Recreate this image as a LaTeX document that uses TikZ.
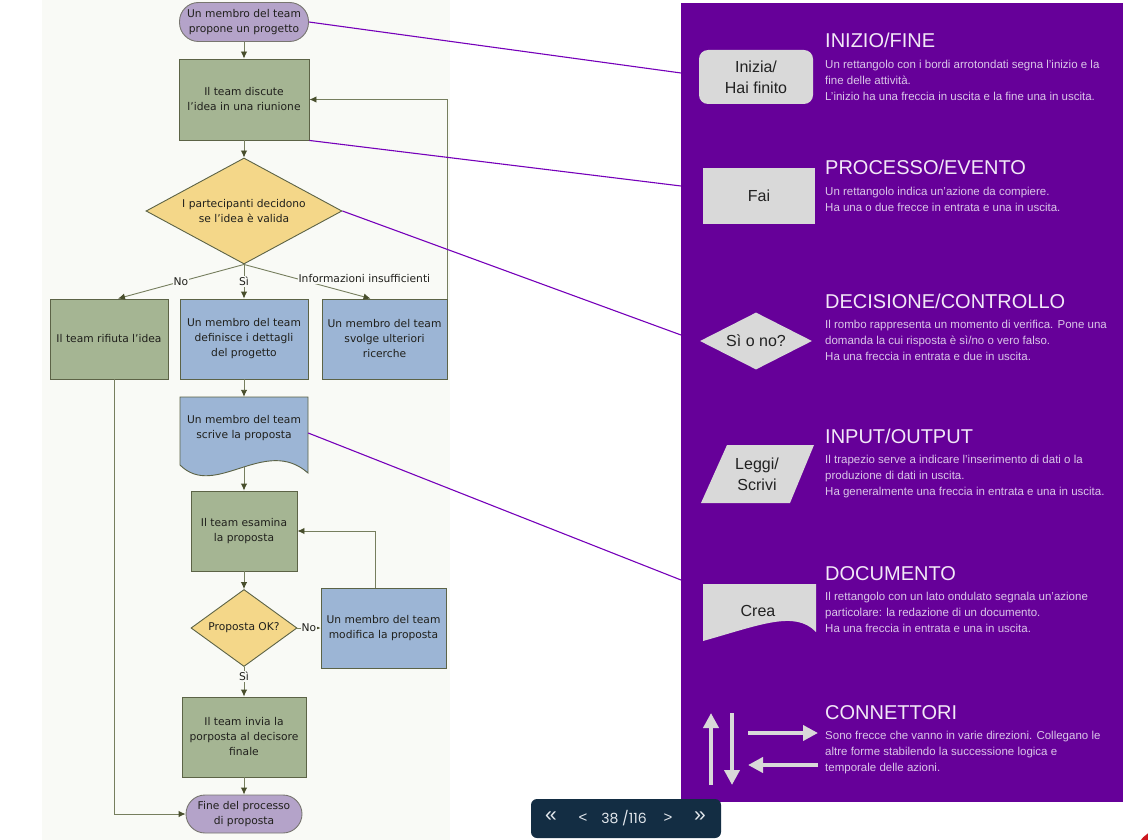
\documentclass[tikz,border=0pt]{standalone}
\usepackage{fontspec}
\setmainfont{Liberation Sans}
\newfontfamily\chartFont{DejaVu Sans}
\newfontfamily\pageFont{Poppins}
\usepackage{tikz}
\usetikzlibrary{shapes.geometric,arrows.meta}
\definecolor{chartBack}{RGB}{249,250,246}
\definecolor{chartInk}{RGB}{32,32,28}
\definecolor{boxEdge}{RGB}{92,99,70}
\definecolor{lineInk}{RGB}{118,126,94}
\definecolor{tipInk}{RGB}{72,78,44}
\definecolor{greenFill}{RGB}{165,181,147}
\definecolor{blueFill}{RGB}{156,181,213}
\definecolor{yellowFill}{RGB}{244,215,137}
\definecolor{lilacFill}{RGB}{180,163,201}
\definecolor{lilacEdge}{RGB}{120,118,112}
\definecolor{linkPurple}{RGB}{118,0,186}
\definecolor{panelPurple}{RGB}{102,0,153}
\definecolor{legendGrey}{RGB}{217,217,217}
\definecolor{legendInk}{RGB}{34,34,34}
\definecolor{titleInk}{RGB}{242,232,247}
\definecolor{bodyInk}{RGB}{218,198,232}
\definecolor{navBlue}{RGB}{19,45,67}
\definecolor{navInk}{RGB}{228,233,238}
\definecolor{cornerRed}{RGB}{204,22,30}
\tikzstyle{page} = [x=1pt, y=-1pt]
\tikzstyle{chartText} = [font=\chartFont\fontsize{10.7}{15}\selectfont, text=chartInk, align=center]
\tikzstyle{stepBox} = [chartText, rectangle, draw=boxEdge, line width=0.9pt, inner sep=0pt]
\tikzstyle{greenBox} = [stepBox, fill=greenFill]
\tikzstyle{blueBox} = [stepBox, fill=blueFill]
\tikzstyle{choiceBox} = [chartText, diamond, draw=boxEdge, line width=0.9pt, fill=yellowFill, inner sep=0pt]
\tikzstyle{endBox} = [chartText, rectangle, rounded corners=19pt, draw=lilacEdge, line width=0.9pt, fill=lilacFill, inner sep=0pt]
\tikzstyle{flowLine} = [draw=lineInk, line width=0.9pt]
\tikzstyle{flowArrow} = [flowLine, -{Latex[length=7pt, width=6.5pt, color=tipInk]}]
\tikzstyle{flowLabel} = [chartText, fill=chartBack, inner sep=1pt]
\tikzstyle{linkLine} = [draw=linkPurple, line width=1.1pt]
\tikzstyle{legendShape} = [fill=legendGrey, text=legendInk, font=\fontsize{16}{21}\selectfont, align=center, inner sep=0pt]
\tikzstyle{legendTitle} = [anchor=base west, inner sep=0pt, text=titleInk, font=\fontsize{20}{22}\selectfont]
\tikzstyle{legendBody} = [anchor=north west, inner sep=0pt, text=bodyInk, align=left, font=\fontsize{11.5}{16}\selectfont]
\tikzstyle{iconArrow} = [draw=legendGrey, line width=4pt, -{Triangle[length=15pt, width=15pt]}]
\tikzstyle{navText} = [text=navInk, inner sep=0pt, font=\fontsize{21}{21}\selectfont]
\newcommand{\legendEntry}[4]{
  \node [legendTitle] (#1Title) at (825, #2) {#3};
  \node [legendBody] (#1Body) at (825, #2 + 11.5) {#4};
}
\begin{document}
\begin{tikzpicture}[page]
  \useasboundingbox (0,0) rectangle (1148,840);
  \clip (0,0) rectangle (1148,840);
  \fill [white] (0,0) rectangle (1148,840);
  \fill [chartBack] (42,0) rectangle (450,840);

  \node [endBox, minimum width=129, minimum height=39] (start) at (244,22) {Un membro del team\\propone un progetto};
  \node [greenBox, minimum width=130, minimum height=81] (discute) at (244,99.5) {Il team discute\\l’idea in una riunione};
  \node [choiceBox, aspect=1.85, minimum width=196, minimum height=106] (decide) at (244,211) {I partecipanti decidono\\se l’idea è valida};
  \node [greenBox, minimum width=118, minimum height=80] (rifiuta) at (109,339) {Il team rifiuta l’idea};
  \node [blueBox, minimum width=128, minimum height=80] (definisce) at (244,339) {Un membro del team\\definisce i dettagli\\del progetto};
  \node [blueBox, minimum width=125, minimum height=80] (ricerche) at (384.5,339) {Un membro del team\\svolge ulteriori\\ricerche};
  \draw [stepBox, fill=blueFill] (180,397) -- (308,397) -- (308,473) .. controls (265,435) and (215,500) .. (180,465) -- cycle;
  \node [chartText, minimum width=128, minimum height=62, inner sep=0pt] (scrive) at (244,428) {Un membro del team\\scrive la proposta};
  \coordinate (scriveTail) at (244,467);
  \node [greenBox, minimum width=106, minimum height=80] (esamina) at (244,531) {Il team esamina\\la proposta};
  \node [choiceBox, aspect=1.38, minimum width=106, minimum height=77] (proposta) at (244,628) {Proposta OK?};
  \node [blueBox, minimum width=125, minimum height=80] (modifica) at (383.5,628) {Un membro del team\\modifica la proposta};
  \node [greenBox, minimum width=124, minimum height=80] (invia) at (244,737) {Il team invia la\\porposta al decisore\\finale};
  \node [endBox, minimum width=116, minimum height=38] (fine) at (244,814) {Fine del processo\\di proposta};

  \draw [flowArrow] (start) -- (discute);
  \draw [flowArrow] (discute) -- (decide);
  \draw [flowArrow] (decide.south) -- node [flowLabel] (noLabel) {No} ([xshift=9pt]rifiuta.north);
  \draw [flowArrow] (decide.south) -- node [flowLabel] (siLabel) {Sì} (definisce);
  \draw [flowArrow] (decide.south) -- node [flowLabel, pos=0.42, anchor=west] (infoLabel) {Informazioni insufficienti} ([xshift=-14pt]ricerche.north);
  \draw [flowArrow] (ricerche.north east) |- (discute.east);
  \draw [flowArrow] (definisce) -- (scrive);
  \draw [flowArrow] (scriveTail) -- (esamina);
  \draw [flowArrow] (esamina) -- (proposta);
  \draw [flowArrow] (proposta) -- node [flowLabel, inner sep=0.5pt] (noLabelB) {No} (modifica);
  \draw [flowArrow] ([xshift=-8pt]modifica.north) |- (esamina.east);
  \draw [flowArrow] (proposta) -- node [flowLabel, pos=0.32] (siLabelB) {Sì} (invia);
  \draw [flowArrow] (invia) -- (fine);
  \draw [flowArrow] ([xshift=5pt]rifiuta.south) |- (fine.west);

  \coordinate (linkA) at (681,73);
  \coordinate (linkB) at (681,186);
  \coordinate (linkC) at (681,335);
  \coordinate (linkD) at (681,580);
  \draw [linkLine] (start.east) -- (linkA);
  \draw [linkLine] (discute.south east) -- (linkB);
  \draw [linkLine] (decide.east) -- (linkC);
  \draw [linkLine] ([yshift=-5pt]scrive.east) -- (linkD);

  \fill [panelPurple] (681,3) rectangle (1123,802);
  \node [legendShape, rectangle, rounded corners=9pt, minimum width=114, minimum height=54] (inizia) at (756,77) {Inizia/\\Hai finito};
  \node [legendShape, rectangle, minimum width=112, minimum height=56] (fai) at (759,196) {Fai};
  \node [legendShape, diamond, aspect=2, minimum width=112, minimum height=57] (sino) at (756,341) {Sì o no?};
  \fill [legendGrey] (727,445) -- (814,445) -- (790,503) -- (701,503) -- cycle;
  \node [legendShape, fill=none] (leggi) at (757,474) {Leggi/\\Scrivi};
  \fill [legendGrey] (703,584) -- (816,584) -- (816,632) .. controls (795,610) and (760,625) .. (703,641) -- cycle;
  \node [legendShape, fill=none] (crea) at (758,611) {Crea};
  \draw [iconArrow] (711,785) -- (711,713);
  \draw [iconArrow] (732,713) -- (732,785);
  \draw [iconArrow] (748,733) -- (818,733);
  \draw [iconArrow] (818,765) -- (748,765);

  \legendEntry{inizio}{48}{INIZIO/FINE}{Un rettangolo con i bordi arrotondati segna l'inizio e la\\fine delle attività.\\L'inizio ha una freccia in uscita e la fine una in uscita.}
  \legendEntry{processo}{175}{PROCESSO/EVENTO}{Un rettangolo indica un'azione da compiere.\\Ha una o due frecce in entrata e una in uscita.}
  \legendEntry{decisione}{308}{DECISIONE/CONTROLLO}{Il rombo rappresenta un momento di verifica. Pone una\\domanda la cui risposta è sì/no o vero falso.\\Ha una freccia in entrata e due in uscita.}
  \legendEntry{input}{443}{INPUT/OUTPUT}{Il trapezio serve a indicare l'inserimento di dati o la\\produzione di dati in uscita.\\Ha generalmente una freccia in entrata e una in uscita.}
  \legendEntry{documento}{580}{DOCUMENTO}{Il rettangolo con un lato ondulato segnala un'azione\\particolare: la redazione di un documento.\\Ha una freccia in entrata e una in uscita.}
  \legendEntry{connettori}{719}{CONNETTORI}{Sono frecce che vanno in varie direzioni. Collegano le\\altre forme stabilendo la successione logica e\\temporale delle azioni.}

  \node [fill=navBlue, rounded corners=6pt, minimum width=190, minimum height=39, inner sep=0pt] (navBar) at (626,818.5) {};
  \node [navText] (navFirst) at (551,817) {«};
  \node [navText, font=\fontsize{15}{15}\selectfont] (navPrev) at (583,818) {<};
  \node [navText, font=\pageFont\fontsize{14}{14}\selectfont] (navPage) at (624,818) {38 /116};
  \node [navText, font=\fontsize{15}{15}\selectfont] (navNext) at (668,818) {>};
  \node [navText] (navLast) at (700,817) {»};
  \fill [cornerRed] (1163,857) circle [radius=28pt];
\end{tikzpicture}
\end{document}
